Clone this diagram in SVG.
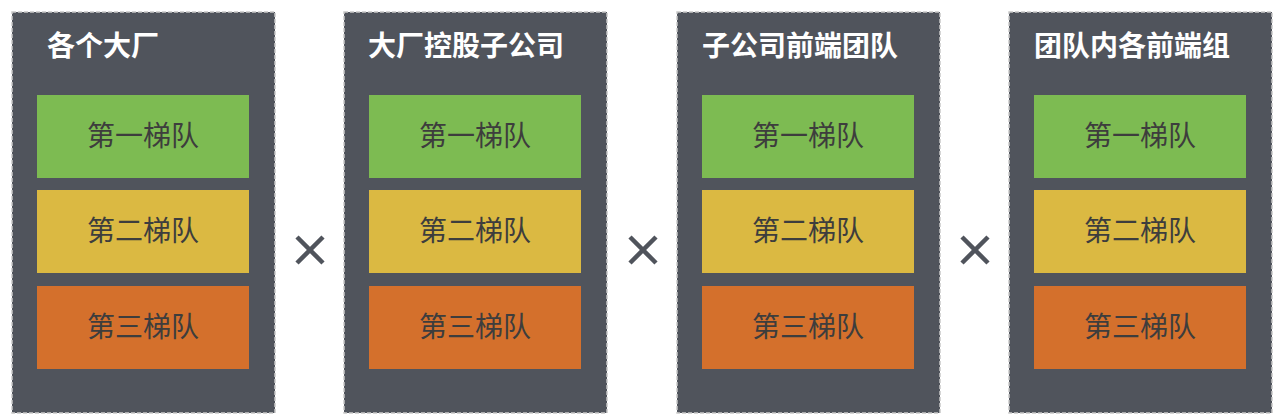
<svg xmlns="http://www.w3.org/2000/svg" width="1280" height="419" viewBox="0 0 1280 419">
<style>
.p{fill:#50545c;stroke:#c8c8c8;stroke-width:1.5;stroke-dasharray:4 2}
.t{font-family:"Liberation Sans","Noto Sans CJK SC",sans-serif;font-weight:bold;font-size:28px;fill:#fff}
.l{font-family:"Liberation Sans","Noto Sans CJK SC",sans-serif;font-size:28px;fill:#3d3d3d;text-anchor:middle}
.g{fill:#7dbb52}.y{fill:#dbb942}.o{fill:#d4702c}
.x{stroke:#50545c;stroke-width:4.5;stroke-linecap:butt}
</style>
<rect width="1280" height="419" fill="#fff"/>
<defs>
<g id="boxes">
<rect class="g" x="25" y="83" width="212" height="83"/>
<text class="l" x="131" y="134">第一梯队</text>
<rect class="y" x="25" y="178" width="212" height="83"/>
<text class="l" x="131" y="229">第二梯队</text>
<rect class="o" x="25" y="274" width="212" height="83"/>
<text class="l" x="131" y="325">第三梯队</text>
</g>
</defs>
<g id="panel1"><rect class="p" x="12" y="12" width="263" height="401"/><use href="#boxes" x="12" y="12"/><text class="t" x="47" y="56">各个大厂</text></g>
<g id="panel2"><rect class="p" x="344" y="12" width="263" height="401"/><use href="#boxes" x="344" y="12"/><text class="t" x="368" y="56">大厂控股子公司</text></g>
<g id="panel3"><rect class="p" x="677" y="12" width="263" height="401"/><use href="#boxes" x="677" y="12"/><text class="t" x="702" y="56">子公司前端团队</text></g>
<g id="panel4"><rect class="p" x="1009" y="12" width="263" height="401"/><use href="#boxes" x="1009" y="12"/><text class="t" x="1034" y="56">团队内各前端组</text></g>
<g id="connectors">
<path class="x" d="M297 237l26 26M323 237l-26 26"/>
<path class="x" d="M630 237l26 26M656 237l-26 26"/>
<path class="x" d="M962 237l26 26M988 237l-26 26"/>
</g>
</svg>
